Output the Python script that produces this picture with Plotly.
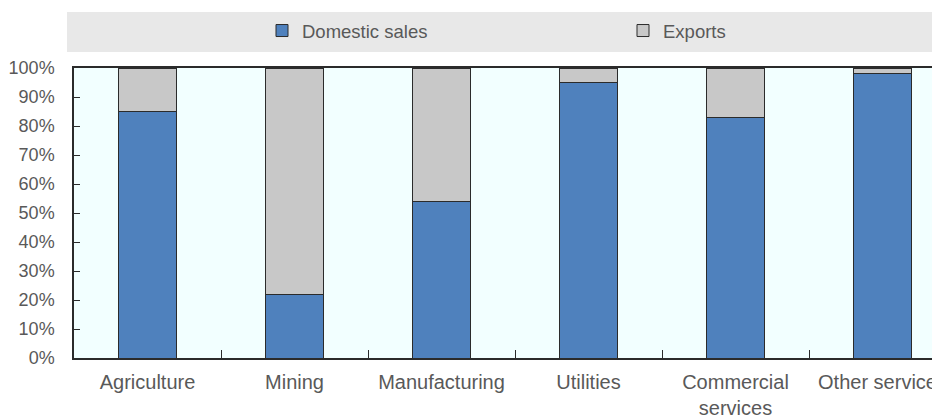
import plotly.graph_objects as go

categories = ["Agriculture", "Mining", "Manufacturing", "Utilities", "Commercial<br>services", "Other services"]
domestic = [85, 22, 54, 95, 83, 98]
exports = [15, 78, 46, 5, 17, 2]
tick_vals = [0, 10, 20, 30, 40, 50, 60, 70, 80, 90, 100]
tick_text = [f"{v}%" for v in tick_vals]

FONT = "Liberation Sans, Arial, sans-serif"
TXT = "#595959"

# page body has an 8px margin; compensate so the figure fills 940x418
OFF = 8
PLOT_L, PLOT_T, PLOT_W, PLOT_H = 74, 68, 866, 290

fig = go.Figure()
fig.add_trace(go.Bar(x=categories, y=domestic, name="Domestic sales",
                     marker=dict(color="#4f81bd", line=dict(color="#2b2b2b", width=1))))
fig.add_trace(go.Bar(x=categories, y=exports, name="Exports",
                     marker=dict(color="#c8c8c8", line=dict(color="#2b2b2b", width=1))))

fig.update_layout(
    template="none",
    barmode="stack",
    bargap=0.6,
    width=940 - OFF, height=418 - OFF,
    margin=dict(l=PLOT_L - OFF, r=0, t=PLOT_T - OFF, b=418 - PLOT_T - PLOT_H, autoexpand=False),
    paper_bgcolor="white",
    plot_bgcolor="#f2ffff",
    font=dict(family=FONT, color=TXT, size=18),
    showlegend=True,
    legend=dict(orientation="h", x=(262 - PLOT_L) / PLOT_W, xanchor="left",
                y=1 + (PLOT_T - 31) / PLOT_H, yanchor="middle",
                entrywidth=316, entrywidthmode="pixels",
                font=dict(family=FONT, size=18.5, color=TXT), bgcolor="rgba(0,0,0,0)",
                traceorder="normal", itemclick=False),
    shapes=[dict(type="rect", xref="paper", yref="paper",
                 x0=(67 - PLOT_L) / PLOT_W, x1=(933 - PLOT_L) / PLOT_W,
                 y0=1 + (PLOT_T - 52) / PLOT_H, y1=1 + (PLOT_T - 12) / PLOT_H,
                 fillcolor="#e8e8e8", line=dict(width=0), layer="below")],
)

fig.update_xaxes(
    type="category", range=[-0.5, -0.5 + PLOT_W / 147],
    showline=True, linecolor="#2b2b2b", linewidth=1.5, mirror=True,
    ticks="inside", ticklen=8, tickcolor="#2b2b2b", tickson="boundaries",
    showgrid=False, automargin=False, tickangle=0,
    tickfont=dict(family=FONT, size=20, color=TXT), ticklabelstandoff=5,
)
fig.update_yaxes(
    range=[0, 100], tickvals=tick_vals, ticktext=tick_text,
    showline=True, linecolor="#2b2b2b", linewidth=1.5,
    ticks="inside", ticklen=6, tickcolor="#2b2b2b",
    showgrid=False, zeroline=False, automargin=False,
    tickfont=dict(size=18, color=TXT), ticklabelstandoff=14,
)

fig.write_html("out.html")
